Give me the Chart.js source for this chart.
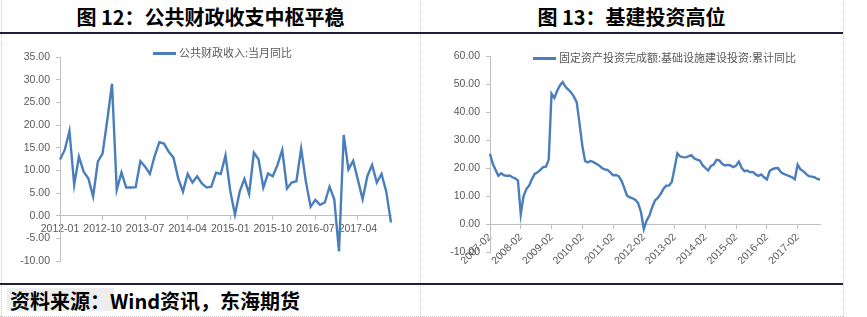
<!DOCTYPE html>
<html>
<head>
<meta charset="utf-8">
<script src="https://cdn.jsdelivr.net/npm/chart.js@4/dist/chart.umd.min.js"></script>
<style>
* {
	box-sizing: border-box;
}

body
{
	margin: 0;
	width: 867px;
	height: 317px;
	background: #fff;
	position: relative;
	overflow: hidden;
	font-family: "Noto Sans CJK SC", sans-serif;
}

.title, .source
{
	position: absolute;
	font-weight: 700;
	font-size: 20px;
	line-height: 33px;
	color: #000;
	white-space: nowrap;
}

.title
{
	top: 0;
	width: 421px;
	text-align: center;
}

.rule
{
	position: absolute;
	left: 0;
	width: 843px;
	height: 2px;
	background: #1d1f3c;
}

.cell
{
	position: absolute;
	top: 0;
	height: 317px;
	border-left: 1px dotted #c8c8c8;
}

.box
{
	position: absolute;
	top: 35px;
	width: 420px;
	height: 248px;
}

.legend
{
	position: absolute;
	font-size: 11px;
	color: #595959;
	white-space: nowrap;
	line-height: 14px;
}

.legend i
{
	display: inline-block;
	width: 23px;
	height: 3px;
	background: #4a7ebb;
	vertical-align: middle;
	margin-right: 3px;
	position: relative;
	top: -1px;
}
</style>
</head>
<body>
<div class="cell" style="left:1px"></div>
<div class="cell" style="left:420px"></div>
<div class="cell" style="left:843px"></div>
<div class="rule" style="top:32px"></div>
<div class="rule" style="top:283px"></div>
<div style="position:absolute;left:0;top:316px;width:843px;border-top:1px dotted #c8c8c8"></div>

<div class="title" style="left:0">图 12：公共财政收支中枢平稳</div>
<div class="title" style="left:421px">图 13：基建投资高位</div>

<div class="box" style="left:0"><canvas id="left"></canvas></div>
<div class="box" style="left:421px"><canvas id="right"></canvas></div>

<div class="legend" style="left:153px;top:45px"><i></i>公共财政收入:当月同比</div>
<div class="legend" style="left:533px;top:50px"><i></i>固定资产投资完成额:基础设施建设投资:累计同比</div>

<div style="position:absolute;left:7px;top:288px;width:107px;height:23px;background:rgba(0,0,0,0.07)"></div>
<div class="source" style="left:10px;top:284px">资料来源：Wind资讯，东海期货</div>

<script>
// 公共财政收入:当月同比, 2012-01 .. 2017-11
const revenueStart = [2012, 1];
const revenue = [
	12.4, 14.5, 18.7, 6.8, 13.0, 9.7, 8.2, 4.2, 11.9, 13.7, 21.1, 29.1,
	5.7, 9.5, 6.2, 6.2, 6.3, 12.0, 10.8, 9.2, 13.1, 16.2, 15.9, 14.1,
	12.8, 8.2, 5.3, 9.2, 7.3, 8.7, 7.1, 6.2, 6.4, 9.5, 9.2, 13.3,
	5.5, 0.2, 5.3, 8.1, 4.8, 13.9, 12.4, 6.2, 9.3, 8.7, 11.2, 14.5,
	6.0, 7.3, 7.6, 14.8, 7.5, 2.0, 3.5, 2.4, 2.9, 6.4, 3.6, -7.9,
	17.8, 10.2, 12.1, 7.9, 3.6, 8.7, 11.2, 7.3, 9.2, 5.3, -1.5
];
const revenueTicks = ["2012-01", "2012-10", "2013-07", "2014-04", "2015-01", "2015-10", "2016-07", "2017-04"];

// 基础设施建设投资:累计同比, 2007-02 .. 2017-10 (no January figures)
const infraStart = [2007, 2];
const infra = [
	25.1, 21.5, 19.3, 17.2, 18.1, 17.4, 17.2, 17.3, 16.7, 16.3, 15.5,
	3.5, 10.0, 12.5, 13.7, 16.1, 17.9, 18.5, 19.3, 20.3, 20.5, 23.0,
	46.5, 45.0, 47.5, 49.5, 50.7, 49.0, 48.0, 47.0, 45.5, 43.5, 36.0,
	28.0, 22.5, 22.0, 22.5, 22.1, 21.5, 20.9, 20.0, 19.5, 19.3, 18.4,
	17.4, 17.5, 17.1, 15.5, 12.9, 10.1, 9.5, 9.2, 8.6, 7.4, 4.2,
	-1.8, 1.2, 3.0, 6.0, 8.4, 9.3, 10.7, 12.5, 13.7, 13.7, 15.0,
	20.0, 25.2, 24.1, 23.9, 23.8, 24.2, 24.6, 23.5, 23.0, 22.7, 21.0,
	20.0, 19.1, 20.7, 21.2, 22.9, 22.7, 21.5, 20.9, 21.1, 20.9, 20.3,
	20.9, 22.3, 20.0, 18.9, 19.1, 18.5, 18.6, 17.7, 17.2, 17.7, 16.7,
	15.9, 18.9, 19.6, 19.9, 20.0, 18.5, 17.9, 17.5, 17.1, 16.7, 16.0,
	21.2, 19.5, 18.9, 17.9, 17.1, 16.9, 16.7, 16.1, 15.9
];
const infraTicks = ["2007-02", "2008-02", "2009-02", "2010-02", "2011-02", "2012-02",
	"2013-02", "2014-02", "2015-02", "2016-02", "2017-02"];

function months(start, count, skipJanuary)
{
	let [y, m] = start;
	const out = [];
	while (out.length < count)
	{
		if (!(skipJanuary && m === 1))
			out.push(y + "-" + String(m).padStart(2, "0"));
		m++;
		if (m > 12)
		{
			m = 1;
			y++;
		}
	}
	return out;
}

const axisColor = "#bfbfbf";
const tickFont = {family: "'Liberation Sans', Arial", size: 10.5};

function chart(id, labels, values, tickLabels, y, frame)
{
	const shown = new Set(tickLabels);
	return new Chart(document.getElementById(id), {
		type: "line",
		data: {labels, datasets: [{data: values, borderColor: "#4a7ebb", borderWidth: 2.4,
			pointRadius: 0, tension: 0, fill: false}]},
		options: {
			responsive: true,
			maintainAspectRatio: false,
			animation: false,
			layout: {padding: frame.padding},
			plugins: {legend: {display: false}, tooltip: {enabled: false}},
			scales: {
				x: {
					type: "category",
					position: {y: 0},
					offset: false,
					border: {display: true, color: axisColor, width: 1},
					grid: {drawOnChartArea: false, drawTicks: true, tickLength: 4,
						tickColor: c => shown.has(labels[c.index]) ? axisColor : "transparent"},
					ticks: {autoSkip: false, maxRotation: frame.rotation, minRotation: frame.rotation,
						padding: 3, color: "#595959", font: tickFont,
						callback: (v, i) => shown.has(labels[i]) ? labels[i] : ""}
				},
				y: {
					min: y.min, max: y.max,
					afterFit: s => { s.width = frame.axisWidth; },
					border: {display: true, color: axisColor, width: 1},
					grid: {drawOnChartArea: false, drawTicks: true, tickLength: 4, tickColor: axisColor},
					ticks: {stepSize: y.step, padding: 6, color: "#595959", font: tickFont,
						callback: v => v.toFixed(2)}
				}
			}
		}
	});
}

chart("left", months(revenueStart, revenue.length, false), revenue, revenueTicks,
	{min: -10, max: 35, step: 5},
	{padding: {left: 0, right: 29, top: 22, bottom: 22}, axisWidth: 60, rotation: 0});

chart("right", months(infraStart, infra.length, true), infra, infraTicks,
	{min: -10, max: 60, step: 10},
	{padding: {left: 0, right: 21, top: 21, bottom: 31}, axisWidth: 69, rotation: 45});
</script>
</body>
</html>
